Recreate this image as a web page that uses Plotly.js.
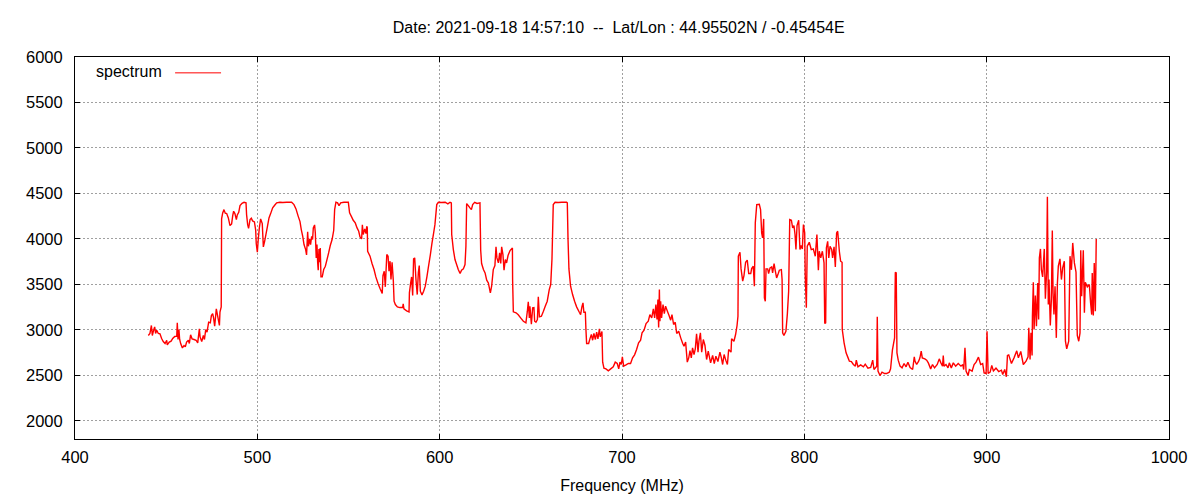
<!DOCTYPE html>
<html>
<head>
<meta charset="utf-8">
<script src="https://cdn.plot.ly/plotly-3.0.1.min.js"></script>
<style>html,body{margin:0;padding:0;background:#fff}</style>
</head>
<body>
<div id="chart" style="width:1200px;height:500px"></div>
<script>
const band440 = [[440.2,2938],[441.1,2960],[441.9,3048],[442.4,2938],[443.1,2996],[443.7,3033],[444.2,2960],[444.8,2996],[445.7,2960],[446.6,2956],[447.5,2905],[448.4,2872],[449.4,2850],[450.3,2886],[450.6,2835],[451.7,2865],[452.7,2875],[453.6,2905],[454.7,2927],[455.8,2930],[456.1,3077],[456.5,2894],[457,3004],[457.4,2894],[458,2846],[458.9,2802],[459.8,2828],[460.5,2813],[461.2,2865],[462.2,2886],[462.7,2850],[463.4,2945],[464.2,2901],[465.3,2894],[466.4,2886],[467.3,2857],[468.2,3011],[468.6,2923],[469.5,2872],[470.4,2938],[471,2894],[471.7,3004],[472.4,2974],[473.3,3084],[474.2,3077],[474.8,3157],[475.5,3179],[476,3132],[476.6,3040],[477.5,3231],[478.1,3168],[479.2,3048],[479.5,3194],[480.2,3253]];
const band480 = [[480.4,4220],[481,4286],[481.7,4322],[482.4,4282],[483.2,4278],[484.1,4231],[485,4147],[485.9,4165],[486.5,4256],[487,4304],[487.7,4278],[488.5,4212],[489,4264],[489.8,4293],[490.5,4366],[491.6,4392],[492.7,4403],[493.8,4396],[494.1,4267],[494.7,4157],[495.2,4117],[496,4212],[496.7,4227],[497.4,4198],[498.4,4187],[499.1,4095],[499.4,3949],[500,3853],[500.5,3993],[501.1,4121],[501.8,4220],[502.7,4169],[503.3,3912],[504,3974],[504.7,4048],[505.5,4132],[506.4,4231],[507.3,4278],[508.4,4341],[509.5,4370],[510.6,4396],[512.4,4403],[514,4400],[516,4403],[518.8,4403],[520.1,4377],[521.2,4330],[522.3,4256],[523.4,4190],[524.1,4103],[524.9,4029],[525.6,3938],[526.5,3883],[527,3824],[527.6,4077],[528,3919],[528.7,4000],[529.2,3938],[529.8,4029],[530.3,3993],[530.7,4121],[531.4,4154],[531.8,4066],[532.3,3791],[532.7,3938],[533.1,3736],[533.4,3656],[533.8,3890],[534.2,3743],[534.5,3901],[534.9,3582],[535.6,3582],[536.4,3663],[537.3,3700],[538.2,3773],[539.1,3846],[540,3927],[541,3993],[541.9,4095],[542.4,4322],[543.1,4403],[544,4396],[544.8,4366],[545.7,4396],[547.5,4403],[549.9,4403],[550.6,4286],[551.7,4242],[552.6,4205],[553.7,4176],[554.7,4121],[555.6,4084],[556.3,4022],[557.2,4000],[557.6,4154],[558.1,4048],[558.9,4110],[559.6,4059],[560,4139],[560.3,4125],[560.5,3864],[561.8,3810],[562.9,3729],[564,3663],[565,3582],[566.2,3509],[567.3,3454],[568.5,3399],[568.9,3597],[569.6,3645],[570.2,3473],[571,3828],[571.7,3810],[572.2,3645],[572.8,3755],[573.3,3553],[573.9,3743],[574.6,3535],[575,3315],[575.7,3278],[576.8,3253],[578.2,3245],[579.7,3245],[580,3286],[580.4,3231],[581.9,3209],[583.2,3198],[583.4,3407],[584.1,3516],[584.6,3582],[585.2,3377],[585.7,3780],[586.3,3791],[587,3553],[587.7,3388],[588.3,3626],[588.8,3707],[589.4,3425],[590.3,3385],[591.2,3425],[592.1,3480],[593,3582],[593.9,3700],[594.9,3828],[595.8,3956],[596.7,4066],[597.4,4157]];
const band598 = [[598.4,4377],[599.3,4403],[601,4400],[603,4403],[604.5,4385],[605.7,4403],[606.4,4396],[606.6,4048],[607.5,3883],[608.4,3773],[609.3,3718],[610.2,3663],[611.2,3619],[612,3656],[613,3670],[613.9,3718],[614.4,3919],[614.8,4388],[615.7,4366],[616.6,4341],[617.4,4322],[618.1,4377],[619.2,4403],[620.5,4390],[622.1,4396],[622.5,3875],[623,3729],[624,3663],[624.9,3626],[625.8,3546],[626.7,3516],[627.8,3407],[628.5,3480],[629.4,3663],[630.3,3707],[630.9,3912],[631.4,3791],[632.2,3736],[632.9,3846],[633.5,3729],[634,3912],[634.7,3828],[635.3,3656],[636,3773],[636.7,3736],[637.5,3817],[638.6,3872],[639.9,3901],[640,3553],[640.4,3198],[641.9,3187],[643.1,3165],[644.4,3132],[645.9,3095],[647.3,3077],[648.1,3205],[648.6,3308],[649.2,3132],[649.5,3260],[650.3,3062],[651,3242],[651.7,3245],[652.1,3095],[652.8,3084],[653.6,3114],[654.1,3363],[654.7,3143],[655.8,3150],[656.9,3205],[657.9,3260],[659,3315],[660.1,3443],[660.9,3498],[661.6,3780],[662.3,4377],[663.3,4403],[665,4400],[667,4403],[669.6,4403],[670,4396],[670.4,3993],[670.9,3670],[671.8,3480],[672.9,3388],[674,3315],[675.1,3253],[676.6,3194],[677.3,3168],[678,3253],[678.6,3297],[679.1,3194],[679.9,3194],[680.2,3011],[680.6,2850],[681.7,2850],[682.4,2901],[683.2,2949],[683.9,2886],[684.6,2960],[685.4,2894],[686.1,2974],[686.8,2901],[687.6,3011],[688.1,2923],[689,2982],[689.4,2645]];
const band690 = [[690.1,2579],[691.2,2571],[692.5,2549],[693.8,2571],[695.2,2593],[696.3,2645],[697.4,2630],[698.2,2571],[698.9,2645],[699.6,2619],[700.2,2703],[700.9,2601],[702.2,2615],[703.5,2630],[704.7,2630],[705.8,2692],[706.9,2725],[708,2784],[709.1,2857],[710.2,2886],[711,2967],[712.1,2996],[713.2,3070],[714.4,3095],[715.3,3168],[716.3,3132],[717.2,3231],[717.9,3132],[718.6,3278],[719.2,3114],[719.7,3333],[720.1,3026],[720.5,3443],[720.8,3095],[721.2,3315],[721.7,3132],[722.5,3278],[723.2,3179],[723.9,3260],[724.9,3205],[725.8,3157],[726.7,3106],[727.4,3168],[728.3,3059],[729.2,3084],[730,2960],[731.1,2985],[732.2,2912],[733.3,2850],[734,2821],[734.9,2865],[735.8,2645],[736.6,2692],[737.3,2773],[738,2692],[738.7,2802],[739.5,2729],[740.2,2791],[740.9,2956],[741.7,2755],[742.2,2875],[743,2967],[743.7,2755],[744.6,2894],[745.5,2828],[746.4,2674],[747.3,2766],[748.6,2637],[749.7,2718],[750.6,2630],[751.5,2711],[752.6,2652],[753.7,2755],[754.5,2692],[755.2,2619],[756,2729],[756.9,2667],[757.8,2619],[758.5,2784],[759.8,2755],[760.1,2901],[761.4,2875],[762.3,2949],[763.1,3048],[763.6,3150]];
const band764 = [[763.8,3810],[764.7,3853],[765.3,3670],[766.2,3535],[766.9,3597],[767.8,3743],[768.7,3766],[769.5,3619],[770.6,3619],[771.1,3674],[772,3700],[772.6,3480],[773.1,4176],[773.9,4377],[775.3,4381],[776,4322],[776.6,4066],[777.1,4011],[777.7,4220],[778.1,3352],[778.6,3315],[779,3670],[779.9,3670],[780.4,3619],[781.2,3681],[782.1,3692],[782.6,3626],[783.4,3729],[784.1,3645],[784.8,3571],[785.7,3619],[786.3,3656],[787.4,3663],[787.8,3553],[788.1,2967],[788.8,2938],[789.9,2985],[790.7,3179],[791.4,3425],[792,4212],[792.9,4205],[793.6,4121],[794.3,4147],[794.9,4048],[795.4,3883],[796,4147],[796.9,4205],[797.6,3883],[798.2,3927],[798.9,3890],[799.5,4157],[800.2,4066],[800.5,3597],[801.1,3242],[801.6,3919],[802.7,3963],[803.8,3883],[804.9,3890],[806,3810],[806.9,4048],[807.7,3656],[808.2,3864],[809,3791],[809.9,3864],[810.8,3736],[811.2,3070],[811.7,3077],[812.1,3901],[812.8,3974],[813.4,3791],[814.1,3919],[815,3883],[815.5,3791],[816.3,3912],[817,3692],[817.7,4066],[818.3,4084],[819.2,3864],[819.9,3755],[820.7,3743]];
const band821 = [[820.8,3004],[821.8,2857],[822.9,2747],[824,2692],[824.7,2656],[825.8,2652],[826.9,2619],[828,2601],[828.5,2667],[829.4,2593],[830.9,2615],[832.4,2593],[833.4,2623],[834.9,2579],[836.4,2586],[837.5,2667],[838.2,2564],[839.7,2601],[840,3143],[840.4,2546],[841.5,2498],[842.6,2535],[844,2520],[845.1,2520],[846.6,2535],[847.3,2571],[848.3,2777],[849,2857],[849.5,2912],[849.9,3634],[850.4,3626],[850.8,2747],[851.5,2667],[852.5,2601],[853.6,2582],[854.7,2630],[855.8,2593],[856.8,2645],[858,2586],[859.4,2564],[860.3,2703],[860.7,2656],[861.6,2619],[862.7,2656],[863.4,2692],[864.1,2766],[864.7,2692],[866.1,2681],[867.1,2667],[868,2637],[869.3,2571],[870.3,2619],[871.4,2582],[872.9,2619],[874,2681],[874.9,2637],[875.8,2601],[876.2,2718],[876.6,2601],[877.7,2619],[878.8,2582],[879.5,2637],[880.6,2582],[881.7,2637],[883,2601],[884.4,2630],[885.9,2601],[886.9,2619],[887.4,2564],[888.1,2802],[888.7,2546],[889.8,2498],[890.5,2564],[892,2546],[893.1,2619],[894.2,2645],[895.5,2700],[896.7,2619],[897.8,2630],[898.6,2527],[899.7,2520],[900.2,2985],[900.8,2520],[901.9,2535],[902.8,2608],[903.7,2549],[905.1,2579],[906.6,2542],[908.1,2557],[908.8,2509],[909.9,2564],[910.8,2484],[911.4,2718],[912.1,2725],[913.6,2630],[915,2692],[916.5,2769],[917.4,2692],[918.7,2762],[920.1,2619],[921.6,2656],[922.7,2703]];
const band923 = [[923.1,3022],[923.8,2674],[924.3,2967],[924.9,2718],[925.1,3150],[925.6,3524],[926,3004],[926.7,3377],[927.3,3040],[928,3516],[928.5,3114],[928.9,3791],[929.5,3890],[930,3663],[930.7,3582],[931.6,3890],[932.2,3341],[932.9,3645],[933.3,4462],[933.8,3278],[934.2,3553],[934.9,3048],[935.5,3341],[936,4092],[936.4,3407],[936.9,3168],[937.5,3480],[938.2,2912],[938.8,3516],[939.3,3700],[940.2,3780],[941,3553],[941.7,3681],[942.6,3755],[943.2,2875],[943.9,2791],[945,2875],[945.7,3810],[946.5,3660],[947.2,3956],[948.1,3736],[949,3634],[949.7,2938],[950.5,2875],[951.2,2967],[951.6,3875],[952.1,3370],[953,3875],[953.6,3187],[954.1,3524],[955.2,3473],[956.3,3498],[957,3297],[957.6,3168],[957.9,3626],[958.5,3157],[959,3736],[959.6,3205],[960.1,4000]];

const allPoints = [].concat(band440, band480, band598, band690, band764, band821, band923);
const frequencies = allPoints.map(p => p[0]);
const levels = allPoints.map(p => p[1]);

const chartTitle = 'Date: 2021-09-18 14:57:10\u00a0\u00a0--\u00a0\u00a0Lat/Lon : 44.95502N / -0.45454E';
const xAxisTitle = 'Frequency (MHz)';
const seriesName = 'spectrum';
const fontFamily = '"Liberation Sans", Arial, sans-serif';
const gridStyle = {showgrid:true, gridcolor:'#a0a0a0', gridwidth:1, griddash:'2px,2px', zeroline:false,
  showline:true, linecolor:'#000', linewidth:1, mirror:'ticks', ticks:'inside', ticklen:5, tickcolor:'#000', tickwidth:1};

Plotly.newPlot('chart', [{
  type:'scatter', mode:'lines', name:seriesName, x:frequencies, y:levels,
  line:{color:'#ff0000', width:1.4, shape:'linear', simplify:false}, hoverinfo:'x+y', showlegend:false
}], {
  width:1200, height:500, paper_bgcolor:'#fff', plot_bgcolor:'#fff',
  margin:{l:75, r:31, t:57, b:61, pad:0},
  font:{family:fontFamily, size:16, color:'#000'},
  title:{text:chartTitle, font:{family:fontFamily, size:16, color:'#000'}, xref:'paper', x:0.497, xanchor:'center', yref:'container', y:0.946, yanchor:'middle'},
  xaxis:Object.assign({range:[400,1000], tick0:400, dtick:100, tickfont:{size:16.5}, ticklabelstandoff:3,
    title:{text:xAxisTitle, font:{size:16}, standoff:15}}, gridStyle),
  yaxis:Object.assign({range:[1800,6000], tick0:2000, dtick:500, tickfont:{size:16.5}, ticklabelstandoff:8}, gridStyle),
  annotations:[{text:seriesName, xref:'paper', yref:'paper', x:0.0175, y:0.963, xanchor:'left', yanchor:'middle', showarrow:false, font:{size:16, color:'#000'}}],
  shapes:[{type:'line', xref:'paper', yref:'paper', x0:0.0915, x1:0.1335, y0:0.9585, y1:0.9585, line:{color:'#ff0000', width:1}}]
}, {displayModeBar:false, staticPlot:true});
</script>
</body>
</html>
